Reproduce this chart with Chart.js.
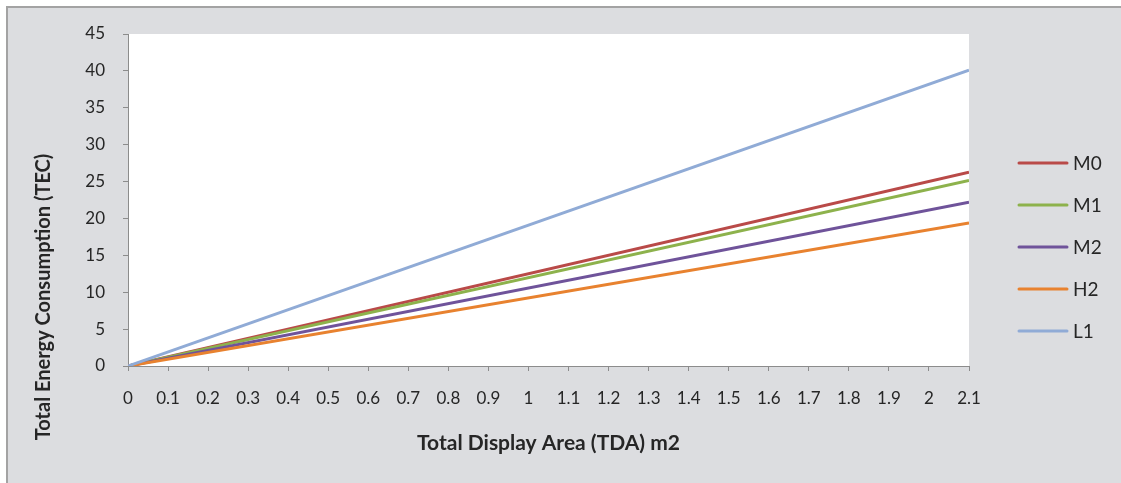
<!DOCTYPE html>
<html>
<head>
<meta charset="utf-8">
<script src="https://cdn.jsdelivr.net/npm/chart.js@4.4.1/dist/chart.umd.min.js"></script>
<style>
  html, body { margin: 0; padding: 0; background: #fff; }
  #frame { position: absolute; left: 6px; top: 6px; width: 1115px; height: 477px;
           border-top: 2px solid #a3a3a3; border-left: 2px solid #a3a3a3; background: #dcdde0; }
  #wrap { position: absolute; left: 0; top: 0; width: 1121px; height: 483px; }
</style>
</head>
<body>
<div id="frame"></div>
<div id="wrap"><canvas id="chart" width="1121" height="483"></canvas></div>
<script>
// x positions of the points (TDA, m2)
var xValues = [0, 2.1];
var xTicks = [0, 0.1, 0.2, 0.3, 0.4, 0.5, 0.6, 0.7, 0.8, 0.9, 1, 1.1, 1.2, 1.3, 1.4, 1.5, 1.6, 1.7, 1.8, 1.9, 2, 2.1];
var xTickLabels = ['0', '0.1', '0.2', '0.3', '0.4', '0.5', '0.6', '0.7', '0.8', '0.9', '1', '1.1', '1.2', '1.3', '1.4', '1.5', '1.6', '1.7', '1.8', '1.9', '2', '2.1'];

// TEC values
var seriesNames = ['M0', 'M1', 'M2', 'H2', 'L1'];
var m0 = [0, 26.25];
var m1 = [0, 25.15];
var m2 = [0, 22.2];
var h2 = [0, 19.4];
var l1 = [0, 40.1];
var seriesColors = ['#b94a48', '#8db24c', '#6f539a', '#e8822f', '#90abd6'];

var TEXT = '#262626', AXIS = '#8c8c8c', FONT = 'Lato';

function points(vals) {
    return xValues.map(function(x, i) { return {x: x, y: vals[i]}; });
}

var allSeries = [m0, m1, m2, h2, l1];
var datasets = allSeries.map(function(vals, i) {
    return {
        label: seriesNames[i],
        data: points(vals),
        borderColor: seriesColors[i],
        backgroundColor: seriesColors[i],
        borderWidth: 3,
        pointRadius: 0,
        fill: false,
        order: allSeries.length - i
    };
});

var plotBg = {
    id: 'plotBg',
    beforeDraw: function(chart) {
        var a = chart.chartArea, ctx = chart.ctx;
        ctx.save();
        ctx.fillStyle = '#fff';
        ctx.fillRect(a.left, a.top, a.right - a.left, a.bottom - a.top);
        ctx.restore();
    }
};

// y title and legend drawn by hand to match the original placement
var extras = {
    id: 'extras',
    afterDraw: function(chart) {
        var ctx = chart.ctx;
        ctx.save();
        ctx.fillStyle = TEXT;
        ctx.font = 'bold 20px ' + FONT;
        ctx.textAlign = 'center';
        ctx.textBaseline = 'middle';
        ctx.translate(44, 297);
        ctx.rotate(-Math.PI / 2);
        ctx.fillText('Total Energy Consumption (TEC)', 0, 0);
        ctx.restore();

        ctx.save();
        ctx.font = '19px ' + FONT;
        ctx.textBaseline = 'middle';
        ctx.textAlign = 'left';
        chart.data.datasets.forEach(function(ds, i) {
            var y = 163 + i * 42;
            ctx.strokeStyle = ds.borderColor;
            ctx.lineWidth = 3;
            ctx.lineCap = 'round';
            ctx.beginPath();
            ctx.moveTo(1019, y);
            ctx.lineTo(1067, y);
            ctx.stroke();
            ctx.fillStyle = TEXT;
            ctx.fillText(ds.label, 1073, y + 1);
        });
        ctx.restore();
    }
};

new Chart(document.getElementById('chart'), {
    type: 'line',
    data: {datasets: datasets},
    plugins: [plotBg, extras],
    options: {
        responsive: false,
        animation: false,
        layout: {padding: {top: 34, right: 152, left: 0, bottom: 0}},
        plugins: {legend: {display: false}, tooltip: {enabled: false}},
        scales: {
            x: {
                type: 'linear',
                min: 0,
                max: 2.1,
                afterBuildTicks: function(scale) {
                    scale.ticks = xTicks.map(function(v) { return {value: v}; });
                },
                afterFit: function(scale) { scale.height = 117; },
                grid: {drawOnChartArea: false, drawTicks: true, tickLength: 5, color: AXIS},
                border: {display: true, color: AXIS, width: 1},
                ticks: {
                    color: TEXT, font: {family: FONT, size: 17}, padding: 17,
                    maxRotation: 0, autoSkip: false,
                    callback: function(v, i) { return xTickLabels[i]; }
                },
                title: {
                    display: true, text: 'Total Display Area (TDA) m2', color: TEXT,
                    font: {family: FONT, size: 21, weight: 'bold'},
                    padding: {top: 0, bottom: 27}
                }
            },
            y: {
                min: 0,
                max: 45,
                afterFit: function(scale) { scale.width = 128; },
                grid: {drawOnChartArea: false, drawTicks: true, tickLength: 5, color: AXIS},
                border: {display: true, color: AXIS, width: 1},
                ticks: {stepSize: 5, color: TEXT, font: {family: FONT, size: 17}, padding: 18}
            }
        }
    }
});
</script>
</body>
</html>
